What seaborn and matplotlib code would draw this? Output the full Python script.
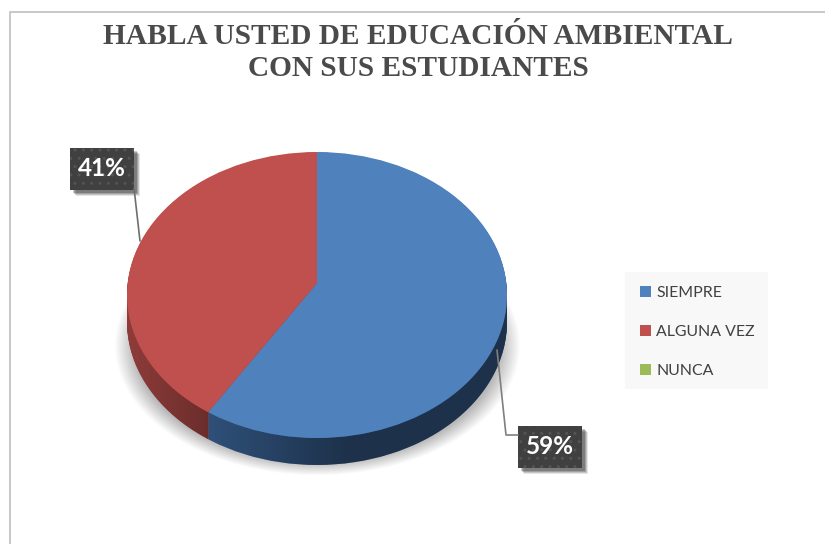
import numpy as np
import matplotlib
matplotlib.use("Agg")
import matplotlib.pyplot as plt
from matplotlib.patches import Circle, PathPatch, Rectangle
from matplotlib.path import Path
import seaborn as sns

categorias = ["SIEMPRE", "ALGUNA VEZ", "NUNCA"]
valores = [59, 41, 0]
colores = ["#4f81bd", "#c0504d", "#9bbb59"]
colores_lado = ["#2f5079", "#8e3c3a", "#66803a"]
titulo = "HABLA USTED DE EDUCACIÓN AMBIENTAL\nCON SUS ESTUDIANTES"

sns.set_theme(style="white")
plt.rcParams["font.family"] = ["Lato", "DejaVu Sans"]

W, H = 825, 544
fig = plt.figure(figsize=(W / 100, H / 100), dpi=100, facecolor="white")


def ejes_pixel(zorder):
    ax = fig.add_axes([0, 0, 1, 1], zorder=zorder)
    ax.set_xlim(0, W)
    ax.set_ylim(H, 0)
    ax.axis("off")
    ax.patch.set_alpha(0)
    return ax


fondo = ejes_pixel(0)
arriba = ejes_pixel(2)

# marco del grafico
fondo.plot([9.5, 9.5, 825], [544, 12, 12], color="#c8c8c8", lw=1.4)

# sombra bajo el pastel
xx, yy = np.meshgrid(np.arange(90, 540), np.arange(200, 500))
r = np.sqrt(((xx - 317) / 203) ** 2 + ((yy - 345) / 130) ** 2)
sombra = np.zeros(xx.shape + (4,))
sombra[..., :3] = 0.35
sombra[..., 3] = 0.42 * np.clip((1 - r) / 0.1, 0, 1)
fondo.imshow(sombra, extent=(90, 540, 500, 200), aspect="auto", zorder=1)
fondo.set_xlim(0, W)
fondo.set_ylim(H, 0)

# pastel: los ejes van de x -1..1 e y -1.3..1, la elipse superior ocupa -1..1
izq, der, sup, inf = 127, 507, 152, 438
alto_extra = 0.3 * (inf - sup) / 2
ax = fig.add_axes([izq / W, 1 - (inf + alto_extra) / H, (der - izq) / W, (inf - sup + alto_extra) / H],
                  zorder=1)
ax.axis("off")
ax.patch.set_alpha(0)

vertice = 12 / 143
prof = 27 / 143

for d in np.linspace(prof, 0.005, 28):
    cunas, _ = ax.pie(valores, colors=colores_lado, startangle=90, counterclock=False,
                      center=(0, vertice - d), radius=1.6, wedgeprops=dict(linewidth=0))
    borde = Circle((0, -d), 1, transform=ax.transData)
    for c in cunas:
        c.set_clip_on(True)
        c.set_clip_path(borde)

# degradado oscuro en el lateral
t = np.linspace(np.pi, 2 * np.pi, 200)
banda = np.vstack([np.c_[np.cos(t), np.sin(t)],
                   np.c_[np.cos(t[::-1]), np.sin(t[::-1]) - prof]])
# x donde el corte entre rebanadas llega al borde
ang = np.deg2rad(valores[1] / sum(valores) * 360)
dx, dy = -np.sin(ang), np.cos(ang)
s = -vertice * dy + np.sqrt((vertice * dy) ** 2 + 1 - vertice ** 2)
corte = s * dx
xs = np.linspace(-1, 1, 380)
alfa = np.where(xs < corte,
                np.interp(xs, [-1, corte], [0, 0.25]),
                np.interp(xs, [corte, 0.15, 1], [0, 0.38, 0.38]))
grad = np.zeros((1, xs.size, 4))
grad[..., 3] = alfa
im = ax.imshow(grad, extent=(-1, 1, -1.3, 0), aspect="auto", zorder=5)
im.set_clip_path(PathPatch(Path(banda), transform=ax.transData))

cunas, _ = ax.pie(valores, colors=colores, startangle=90, counterclock=False,
                  center=(0, vertice), radius=1.6, wedgeprops=dict(linewidth=0))
cara = Circle((0, 0), 1, transform=ax.transData)
for c in cunas:
    c.set_clip_on(True)
    c.set_clip_path(cara)
    c.set_zorder(6)
ax.set_aspect("auto")
ax.set_xlim(-1, 1)
ax.set_ylim(-1.3, 1)

# titulo
arriba.text(418, 52.5, titulo, ha="center", va="center", family="Liberation Serif",
            fontweight="bold", fontsize=21.2, color="#4a4a4a", linespacing=1.2)

# lineas guia
arriba.plot([134, 140], [188, 241], color="#6e6e6e", lw=1.2)
arriba.plot([497, 506, 518], [350, 435, 435], color="#7f7f7f", lw=1.2)


def etiqueta(x0, y0, valor):
    w, h = 64, 42
    for k, a in zip([6, 5, 4, 3], [0.10, 0.14, 0.18, 0.22]):
        arriba.add_patch(Rectangle((x0 + k, y0 + k), w, h, fc="black", ec="none", alpha=a))
    arriba.add_patch(Rectangle((x0, y0), w, h, fc="#404040", ec="#545454", hatch="..", lw=0))
    arriba.text(x0 + w / 2, y0 + h / 2 - 0.5, f"{valor}%", ha="center", va="center",
                color="white", fontweight="bold", fontsize=17.5)


etiqueta(70, 148, valores[1])
etiqueta(518, 426, valores[0])

# leyenda
fondo.add_patch(Rectangle((625, 272), 143, 117, fc="#f8f8f8", ec="none"))
manijas = [Rectangle((0, 0), 1, 1, fc=c, ec="none") for c in colores]
ley = arriba.legend(manijas, categorias, loc="center left", bbox_to_anchor=(640 / W, 1 - 332 / H),
                    bbox_transform=fig.transFigure, frameon=False, fontsize=11.4, labelcolor="#404040",
                    handlelength=0.72, handleheight=0.72, handletextpad=0.3,
                    labelspacing=1.55, borderpad=0, borderaxespad=0)

fig.savefig("out.png", dpi=100)
